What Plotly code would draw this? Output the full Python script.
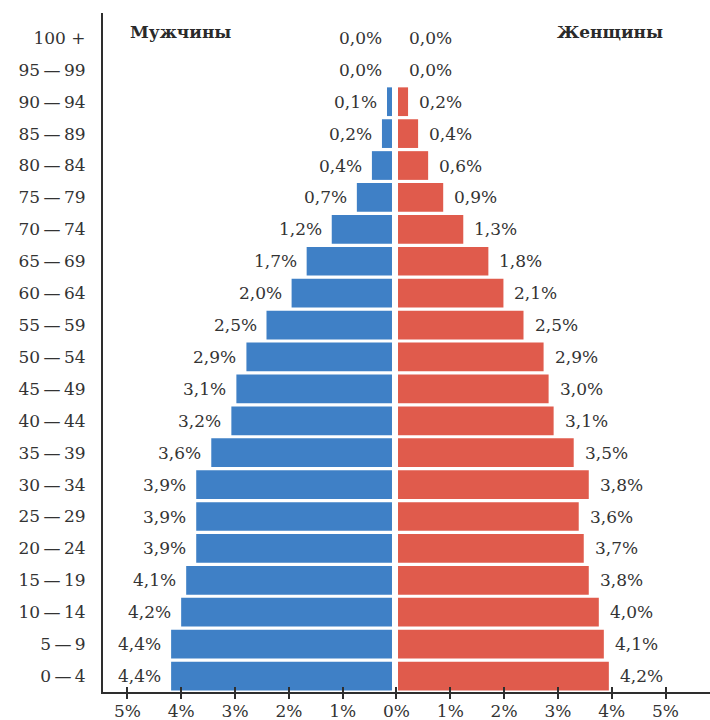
import plotly.graph_objects as go

# ---- data (bottom to top) ----
age_groups = ["0\u2009—\u20094", "5\u2009—\u20099", "10\u2009—\u200914", "15\u2009—\u200919", "20\u2009—\u200924",
              "25\u2009—\u200929", "30\u2009—\u200934", "35\u2009—\u200939", "40\u2009—\u200944", "45\u2009—\u200949",
              "50\u2009—\u200954", "55\u2009—\u200959", "60\u2009—\u200964", "65\u2009—\u200969", "70\u2009—\u200974",
              "75\u2009—\u200979", "80\u2009—\u200984", "85\u2009—\u200989", "90\u2009—\u200994", "95\u2009—\u200999",
              "100 +"]
male = [4.4, 4.4, 4.2, 4.1, 3.9, 3.9, 3.9, 3.6, 3.2, 3.1, 2.9, 2.5, 2.0, 1.7, 1.2, 0.7, 0.4, 0.2, 0.1, 0.0, 0.0]
female = [4.2, 4.1, 4.0, 3.8, 3.7, 3.6, 3.8, 3.5, 3.1, 3.0, 2.9, 2.5, 2.1, 1.8, 1.3, 0.9, 0.6, 0.4, 0.2, 0.0, 0.0]
tick_values = [-5, -4, -3, -2, -1, 0, 1, 2, 3, 4, 5]
tick_labels = ["5%", "4%", "3%", "2%", "1%", "0%", "1%", "2%", "3%", "4%", "5%"]
male_title = "Мужчины"
female_title = "Женщины"

BLUE = "#3f80c6"
RED = "#e05b4c"
TXT = "#333333"
FONT = "DejaVu Serif"
GAP = 0.06


def fmt(v):
    return f"{v:.1f}".replace(".", ",") + "%"


fig = go.Figure()
fig.add_trace(go.Bar(
    y=age_groups, x=[-v for v in male], base=-GAP, orientation="h",
    marker=dict(color=BLUE, line=dict(width=0)), name=male_title,
    hoverinfo="skip",
))
fig.add_trace(go.Bar(
    y=age_groups, x=female, base=GAP, orientation="h",
    marker=dict(color=RED, line=dict(width=0)), name=female_title,
    hoverinfo="skip",
))
# empty helper traces so the tick axes are instantiated
fig.add_trace(go.Scatter(x=[], y=[], xaxis="x2", yaxis="y", showlegend=False))
fig.add_trace(go.Scatter(x=[], y=[], xaxis="x3", yaxis="y", showlegend=False))

annotations = []
for g, m, f in zip(age_groups, male, female):
    annotations.append(dict(x=-m - GAP, y=g, xref="x", yref="y", text=fmt(m),
                            xanchor="right", yanchor="middle", xshift=-8, showarrow=False,
                            font=dict(family=FONT, size=17, color=TXT)))
    annotations.append(dict(x=f + GAP, y=g, xref="x", yref="y", text=fmt(f),
                            xanchor="left", yanchor="middle", xshift=9, showarrow=False,
                            font=dict(family=FONT, size=17, color=TXT)))
annotations.append(dict(x=0.041, y=0.972, xref="paper", yref="paper", text=male_title,
                        xanchor="left", yanchor="middle", showarrow=False,
                        font=dict(family=FONT, size=17, color="#2a2a2a", weight="bold")))
annotations.append(dict(x=0.926, y=0.972, xref="paper", yref="paper", text=female_title,
                        xanchor="right", yanchor="middle", showarrow=False,
                        font=dict(family=FONT, size=17, color="#2a2a2a", weight="bold")))

fig.update_layout(
    width=710, height=720,
    margin=dict(l=103, r=0, t=13, b=28, autoexpand=False),
    paper_bgcolor="white", plot_bgcolor="white",
    barmode="overlay", bargap=0.1,
    showlegend=False,
    annotations=annotations,
    xaxis=dict(range=[-5.817, 6.275], visible=False, fixedrange=True, automargin=False),
    xaxis2=dict(overlaying="x", anchor="y", side="bottom", range=[-5.455, 5.827],
                tickvals=tick_values, ticktext=tick_labels, automargin=False,
                showline=True, linecolor="#2e2e2e", linewidth=2,
                ticks="outside", ticklen=5, tickwidth=2, tickcolor="#2e2e2e",
                showgrid=False, zeroline=False, ticklabelstandoff=-2,
                tickfont=dict(family=FONT, size=17, color=TXT)),
    xaxis3=dict(overlaying="x", anchor="y", side="bottom", range=[-5.455, 5.827],
                tickvals=tick_values, showticklabels=False, automargin=False,
                showline=False, ticks="inside", ticklen=5, tickwidth=2, tickcolor="#2e2e2e",
                showgrid=False, zeroline=False),
    yaxis=dict(type="category", categoryorder="array", categoryarray=age_groups,
               range=[-0.5, 20.78], showline=True, linecolor="#2e2e2e", linewidth=2,
               ticks="", showgrid=False, zeroline=False, ticklabelstandoff=12, automargin=False,
               tickfont=dict(family=FONT, size=17, color=TXT)),
)

fig.write_html("out.html", config={"displayModeBar": False},
               post_script="document.body.style.margin='0px';")
